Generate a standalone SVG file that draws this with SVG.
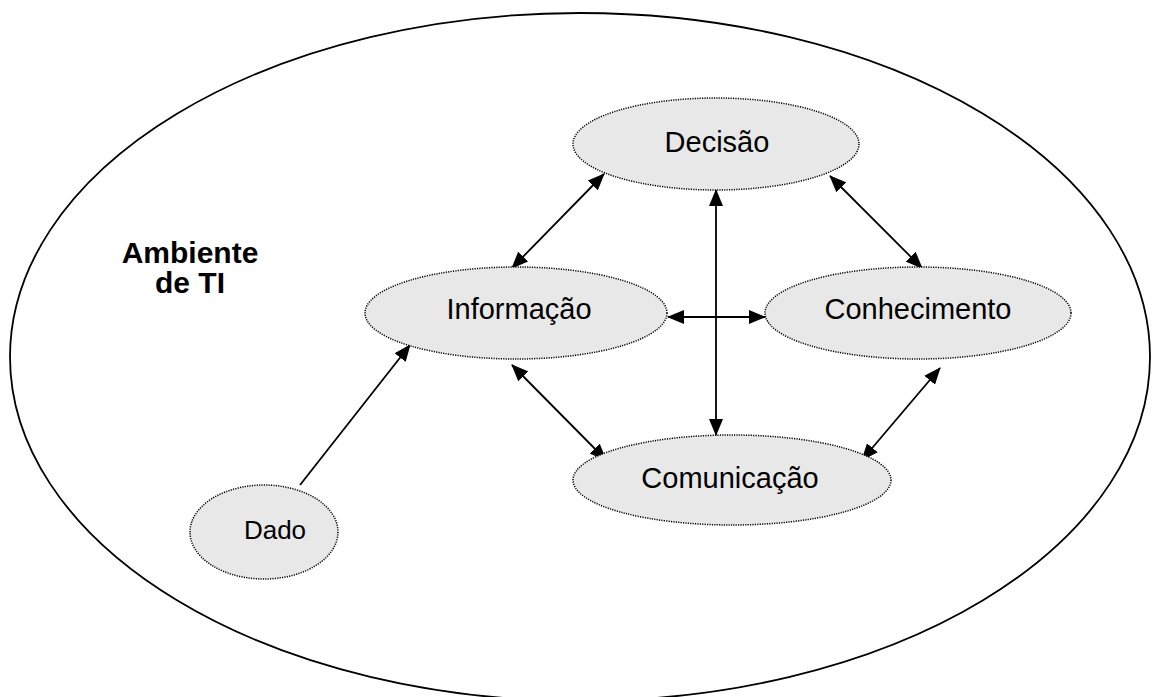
<svg xmlns="http://www.w3.org/2000/svg" width="1153" height="697" viewBox="0 0 1153 697">
<style>
.node{fill:#e8e8e8;stroke:#000;stroke-width:1.5;stroke-dasharray:1.2 1.2}
.lbl{font-family:"Liberation Sans",Arial,sans-serif;font-size:29px;fill:#000;text-anchor:middle}
.edge{stroke:#000;stroke-width:1.8;fill:none}
</style>
<defs>
<marker id="ah" markerWidth="17" markerHeight="14" refX="16" refY="7" orient="auto-start-reverse" markerUnits="userSpaceOnUse">
<path d="M0,0 L17,7 L0,14 Z" fill="#000"/>
</marker>
</defs>
<g id="ambiente">
<ellipse cx="580" cy="357" rx="570" ry="344" fill="none" stroke="#000" stroke-width="1.8"/>
<text class="lbl" x="190" y="263" font-weight="bold" style="font-size:30px">Ambiente</text>
<text class="lbl" x="190" y="293" font-weight="bold" style="font-size:30px">de TI</text>
</g>
<g id="connectors">
<line class="edge" x1="512" y1="268" x2="604" y2="174" marker-start="url(#ah)" marker-end="url(#ah)"/>
<line class="edge" x1="830" y1="176" x2="922" y2="268" marker-start="url(#ah)" marker-end="url(#ah)"/>
<line class="edge" x1="716" y1="190" x2="716" y2="435" marker-start="url(#ah)" marker-end="url(#ah)"/>
<line class="edge" x1="668" y1="317" x2="765" y2="317" marker-start="url(#ah)" marker-end="url(#ah)"/>
<line class="edge" x1="512" y1="365" x2="606" y2="460" marker-start="url(#ah)" marker-end="url(#ah)"/>
<line class="edge" x1="940" y1="368" x2="862" y2="460" marker-start="url(#ah)" marker-end="url(#ah)"/>
<line class="edge" x1="300" y1="485" x2="410" y2="345" marker-end="url(#ah)"/>
</g>
<g id="decisao">
<ellipse class="node" cx="716" cy="144" rx="143" ry="46"/>
<text class="lbl" x="717" y="152">Decisão</text>
</g>
<g id="informacao">
<ellipse class="node" cx="516" cy="313" rx="151" ry="46"/>
<text class="lbl" x="519" y="319">Informação</text>
</g>
<g id="conhecimento">
<ellipse class="node" cx="918" cy="313" rx="153" ry="46"/>
<text class="lbl" x="918" y="319">Conhecimento</text>
</g>
<g id="comunicacao">
<ellipse class="node" cx="732" cy="480" rx="159" ry="45"/>
<text class="lbl" x="730" y="488">Comunicação</text>
</g>
<g id="dado">
<ellipse class="node" cx="264" cy="532" rx="74" ry="47"/>
<text class="lbl" x="275" y="539" style="font-size:26px">Dado</text>
</g>
</svg>
